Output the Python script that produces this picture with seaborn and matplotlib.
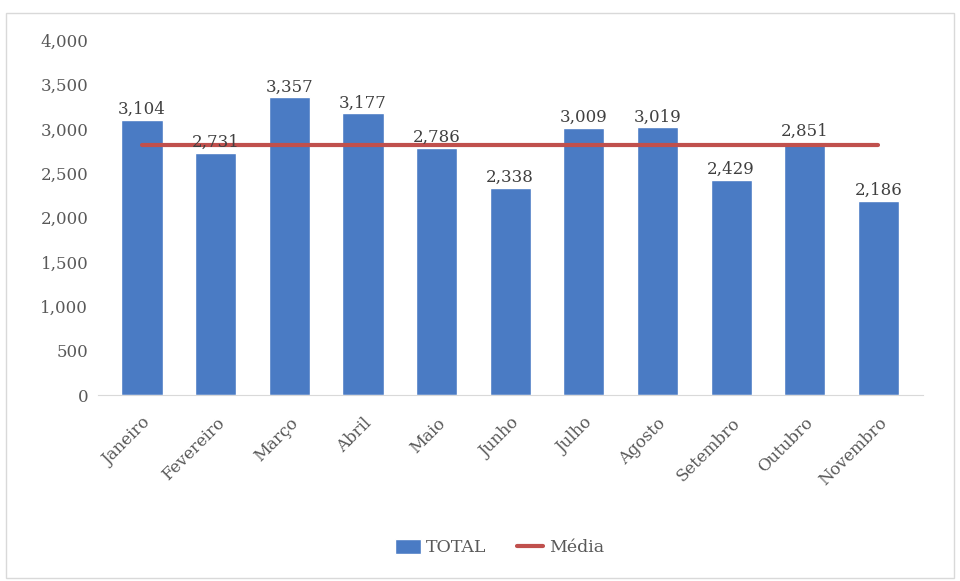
import matplotlib
matplotlib.use("Agg")
import matplotlib.pyplot as plt
import seaborn as sns
import pandas as pd
from matplotlib.patches import Rectangle, Patch
from matplotlib.lines import Line2D

# Dados
meses = ['Janeiro', 'Fevereiro', 'Março', 'Abril', 'Maio', 'Junho',
         'Julho', 'Agosto', 'Setembro', 'Outubro', 'Novembro']
total = [3104, 2731, 3357, 3177, 2786, 2338, 3009, 3019, 2429, 2851, 2186]
media = [2817] * len(meses)

df = pd.DataFrame({'mes': meses, 'total': total, 'media': media})

sns.set_style("white")
plt.rcParams['font.family'] = ['DejaVu Serif']

bar_color = '#4a7bc4'
line_color = '#c0504d'
text_color = '#595959'

fig = plt.figure(figsize=(9.6, 5.81), dpi=100)
ax = fig.add_axes([0.102, 0.32, 0.859, 0.611])

sns.barplot(x='mes', y='total', data=df, color=bar_color, width=0.56,
            saturation=1, ax=ax)
ax.plot(range(len(meses)), df['media'], color=line_color, linewidth=3)

for i, v in enumerate(total):
    ax.text(i, v + 20, f"{v:,}", ha='center', va='bottom', fontsize=12,
            color='#404040')

ax.set_ylim(0, 4000)
ax.set_xlim(-0.6, len(meses) - 0.4)
ax.set_yticks(range(0, 4001, 500))
ax.set_yticklabels([f"{t:,}" for t in range(0, 4001, 500)])
ax.set_xlabel("")
ax.set_ylabel("")
ax.tick_params(axis='both', length=0, labelsize=12, colors=text_color)
ax.tick_params(axis='y', pad=7)
ax.tick_params(axis='x', pad=14)
plt.setp(ax.get_xticklabels(), rotation=45, ha='right', rotation_mode='anchor')

for s in ['top', 'right', 'left']:
    ax.spines[s].set_visible(False)
ax.spines['bottom'].set_color('#d9d9d9')

handles = [Patch(facecolor=bar_color, label='TOTAL'),
           Line2D([0], [0], color=line_color, linewidth=3, label='Média')]
fig.legend(handles=handles, loc='center', bbox_to_anchor=(0.52, 0.057),
           ncol=2, frameon=False, fontsize=12.5, handlelength=1.5,
           handleheight=0.9, columnspacing=1.8, handletextpad=0.3,
           labelcolor=text_color)

fig.patches.append(Rectangle((0.006, 0.006), 0.988, 0.972, transform=fig.transFigure,
                             fill=False, edgecolor='#d9d9d9', linewidth=1))

fig.savefig('out.png', dpi=100, facecolor='white')
